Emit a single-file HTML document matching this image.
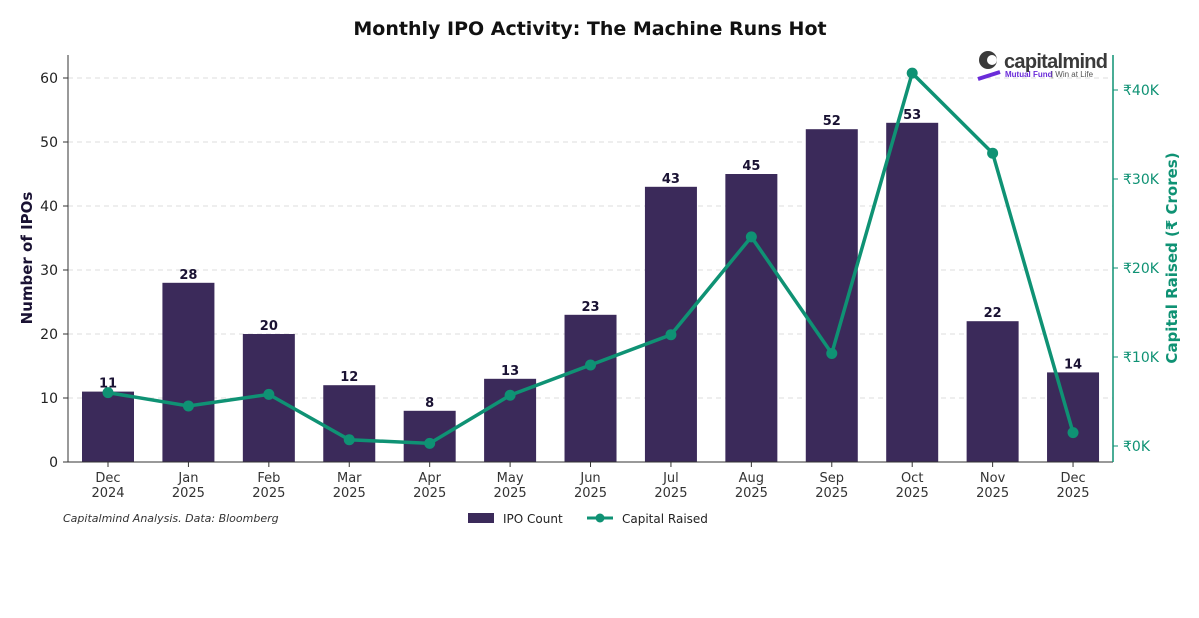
<!DOCTYPE html>
<html><head><meta charset="utf-8"><style>
body{margin:0;background:#fff;font-family:"Liberation Sans","DejaVu Sans",sans-serif}
svg text{font-family:"DejaVu Sans","Liberation Sans",sans-serif}
</style></head><body>
<svg id="c" width="1199" height="613" xmlns="http://www.w3.org/2000/svg">
<text x="590" y="35" text-anchor="middle" font-size="19" font-weight="bold" fill="#111">Monthly IPO Activity: The Machine Runs Hot</text>
<g id="grid"></g><g id="bars"></g><g id="line"></g><g id="axes"></g>
<g>
<circle cx="988" cy="60" r="9" fill="#3a3a3a"/><circle cx="992" cy="60" r="5" fill="#fff"/>
<line x1="978" y1="79" x2="1000" y2="72" stroke="#6a2bd9" stroke-width="4"/>
<text x="1004" y="68" font-size="20" font-weight="bold" fill="#3a3a3a" style="font-family:'Liberation Sans',sans-serif" textLength="104">capitalmind</text>
<text x="1005" y="77" font-size="8" fill="#6a2bd9" font-weight="bold" style="font-family:'Liberation Sans',sans-serif">Mutual Fund</text>
<text x="1051" y="77" font-size="8" fill="#555" style="font-family:'Liberation Sans',sans-serif">| Win at Life</text>
</g>
<text x="63" y="522" font-size="11" font-style="italic" fill="#333">Capitalmind Analysis. Data: Bloomberg</text>
<g>
<rect x="468" y="513" width="26" height="10" fill="#3b2a5a"/>
<text x="503" y="523" font-size="12" fill="#222">IPO Count</text>
<line x1="587" y1="518" x2="613" y2="518" stroke="#0f9274" stroke-width="3"/>
<circle cx="600" cy="518" r="4.5" fill="#0f9274"/>
<text x="622" y="523" font-size="12" fill="#222">Capital Raised</text>
</g>
</svg>
<script>
const months=["Dec","Jan","Feb","Mar","Apr","May","Jun","Jul","Aug","Sep","Oct","Nov","Dec"];
const years=["2024","2025","2025","2025","2025","2025","2025","2025","2025","2025","2025","2025","2025"];
const ipoCount=[11,28,20,12,8,13,23,43,45,52,53,22,14];
const capital=[6.0,4.5,5.8,0.7,0.3,5.7,9.1,12.5,23.5,10.4,41.9,32.9,1.5];
const leftTicks=[0,10,20,30,40,50,60];
const rightTicks=[0,10,20,30,40];
const NS="http://www.w3.org/2000/svg";
const xC=i=>108+i*80.42;
const yL=v=>462-v*6.4;
const yR=v=>446-v*8.9;
function mk(p,t,a){const e=document.createElementNS(NS,t);for(const k in a)e.setAttribute(k,a[k]);document.getElementById(p).appendChild(e);return e;}
leftTicks.forEach(t=>{
 if(t>0){const g=mk('grid','line',{x1:68,x2:1113,y1:yL(t),y2:yL(t),stroke:'#ddd','stroke-dasharray':'5,4'});
 
 }
 mk('axes','line',{x1:63,x2:68,y1:yL(t),y2:yL(t),stroke:'#333'});
 const tx=mk('axes','text',{x:58,y:yL(t)+5,'text-anchor':'end','font-size':14,fill:'#222'});tx.textContent=t;
 
 
});
rightTicks.forEach(t=>{
 mk('axes','line',{x1:1113,x2:1118,y1:yR(t),y2:yR(t),stroke:'#0f9274'});
 const tx=mk('axes','text',{x:1123,y:yR(t)+5,'font-size':14,fill:'#0f9274'});tx.textContent='₹'+t+'K';
 
 
});
ipoCount.forEach((v,i)=>{
 const r=mk('bars','rect',{x:xC(i)-26,y:yL(v),width:52,height:462-yL(v),fill:'#3b2a5a'});
 
 
 const t=mk('bars','text',{x:xC(i),y:yL(v)-4,'text-anchor':'middle','font-size':13,'font-weight':'bold',fill:'#1a1233'});t.textContent=v;
 
 
 mk('axes','line',{x1:xC(i),x2:xC(i),y1:462,y2:467,stroke:'#333'});
 const a=mk('axes','text',{x:xC(i),y:482,'text-anchor':'middle','font-size':13,fill:'#333'});a.textContent=months[i];
 
 
 const b=mk('axes','text',{x:xC(i),y:497,'text-anchor':'middle','font-size':13,fill:'#333'});b.textContent=years[i];
 
 
});
const pl=mk('line','polyline',{points:capital.map((v,i)=>xC(i)+','+yR(v)).join(' '),fill:'none',stroke:'#0f9274','stroke-width':3.5});


capital.forEach((v,i)=>{const c=mk('line','circle',{cx:xC(i),cy:yR(v),r:5.5,fill:'#0f9274'});
 
 });
mk('axes','line',{x1:68,x2:68,y1:55,y2:462,stroke:'#333'});
mk('axes','line',{x1:68,x2:1113,y1:462,y2:462,stroke:'#333'});
mk('axes','line',{x1:1113,x2:1113,y1:55,y2:462,stroke:'#0f9274','stroke-width':1.5});
const yl=mk('axes','text',{transform:'translate(32,258) rotate(-90)','text-anchor':'middle','font-size':15,'font-weight':'bold',fill:'#1a1233'});yl.textContent='Number of IPOs';


const yr=mk('axes','text',{transform:'translate(1177,258) rotate(-90)','text-anchor':'middle','font-size':15,'font-weight':'bold',fill:'#0f9274'});yr.textContent='Capital Raised (₹ Crores)';


</script>
</body></html>
